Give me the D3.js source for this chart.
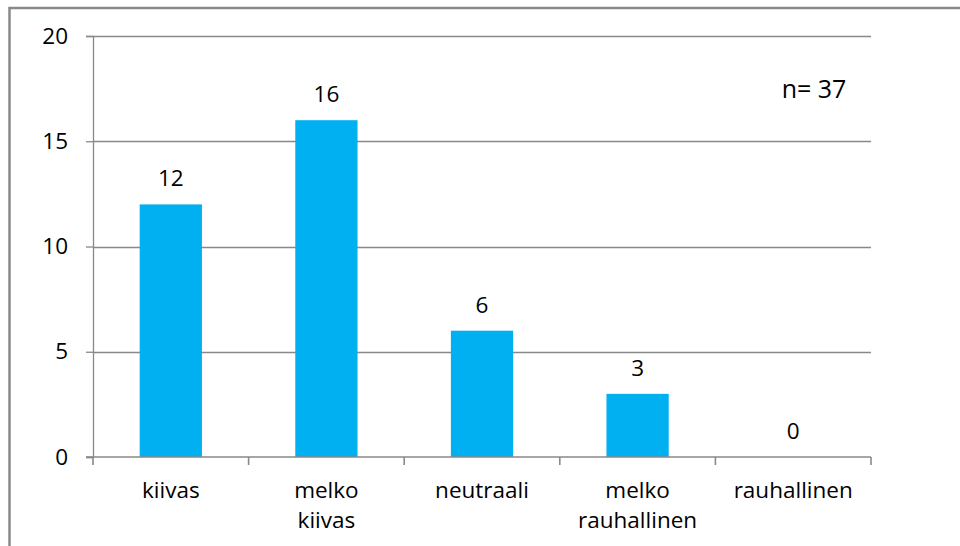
<!DOCTYPE html>
<html>
<head>
<meta charset="utf-8">
<script src="https://cdn.jsdelivr.net/npm/d3@7"></script>
<style>
  html, body { margin: 0; padding: 0; background: #fff; }
  svg { display: block; }
  text { font-family: "Open Sans", "Noto Sans", sans-serif; fill: #000; }
</style>
</head>
<body>
<svg id="chart" width="960" height="546"></svg>
<script>
// Vastausten jakauma
const categories = ["kiivas", "melko kiivas", "neutraali", "melko rauhallinen", "rauhallinen"];
const counts = [12, 16, 6, 3, 0];
const yTicks = [0, 5, 10, 15, 20];
const note = "n= 37";

const svg = d3.select("#chart");
const gray = "#898989";
const fontSize = 22.5;

const plot = { left: 93, right: 871, top: 36, bottom: 457 };

// outer frame
svg.append("rect")
  .attr("x", 9.5).attr("y", 8)
  .attr("width", 1000).attr("height", 600)
  .attr("fill", "none").attr("stroke", gray).attr("stroke-width", 2.5);

const x = d3.scaleBand()
  .domain(categories)
  .range([plot.left, plot.right])
  .paddingInner(0.6)
  .paddingOuter(0.3);

const y = d3.scaleLinear().domain([0, 20]).range([plot.bottom, plot.top]);

// horizontal gridlines
svg.append("g")
  .selectAll("line")
  .data(yTicks.filter(d => d > 0))
  .join("line")
  .attr("x1", plot.left).attr("x2", plot.right)
  .attr("y1", d => Math.round(y(d)) + 0.5).attr("y2", d => Math.round(y(d)) + 0.5)
  .attr("stroke", gray).attr("stroke-width", 1.3);

// y axis
const yAxis = svg.append("g")
  .attr("transform", `translate(${plot.left},0)`)
  .call(d3.axisLeft(y).tickValues(yTicks).tickSize(7).tickPadding(18));
yAxis.select(".domain").attr("stroke", gray).attr("stroke-width", 1.3);
yAxis.selectAll(".tick line").attr("stroke", gray).attr("stroke-width", 1.3);
yAxis.selectAll(".tick text")
  .style("font-family", "'Open Sans', 'Noto Sans', sans-serif")
  .style("font-size", fontSize + "px").attr("fill", "#000");

// bars
svg.append("g")
  .selectAll("rect")
  .data(categories.map((c, i) => ({ c, v: counts[i] })))
  .join("rect")
  .attr("x", d => x(d.c))
  .attr("width", x.bandwidth())
  .attr("y", d => y(d.v))
  .attr("height", d => y(0) - y(d.v))
  .attr("fill", "#00B0F0");

// x axis line and category dividers
const step = x.step();
const edges = categories.map(c => x(c) - step * x.paddingOuter()).concat([plot.right]);
svg.append("line")
  .attr("x1", plot.left - 7).attr("x2", plot.right)
  .attr("y1", plot.bottom).attr("y2", plot.bottom)
  .attr("stroke", gray).attr("stroke-width", 1.6);
svg.append("g")
  .selectAll("line")
  .data(edges)
  .join("line")
  .attr("x1", d => d).attr("x2", d => d)
  .attr("y1", plot.bottom).attr("y2", plot.bottom + 8)
  .attr("stroke", gray).attr("stroke-width", 1.6);

// value labels
svg.append("g")
  .selectAll("text")
  .data(categories.map((c, i) => ({ c, v: counts[i] })))
  .join("text")
  .attr("x", d => x(d.c) + x.bandwidth() / 2)
  .attr("y", d => y(d.v) - 18)
  .attr("text-anchor", "middle")
  .style("font-size", fontSize + "px")
  .text(d => d.v);

// category labels, wrapped at word breaks
const catLabels = svg.append("g")
  .selectAll("text")
  .data(categories)
  .join("text")
  .attr("x", d => x(d) + x.bandwidth() / 2)
  .attr("y", 498)
  .attr("text-anchor", "middle")
  .style("font-size", fontSize + "px");
catLabels.each(function(d) {
  const lines = d.split(" ");
  d3.select(this).selectAll("tspan")
    .data(lines)
    .join("tspan")
    .attr("x", x(d) + x.bandwidth() / 2)
    .attr("dy", (l, i) => i === 0 ? 0 : 30)
    .text(l => l);
});

// sample size note
svg.append("text")
  .attr("x", 814).attr("y", 98)
  .attr("text-anchor", "middle")
  .style("font-size", "25px")
  .text(note);
</script>
</body>
</html>
